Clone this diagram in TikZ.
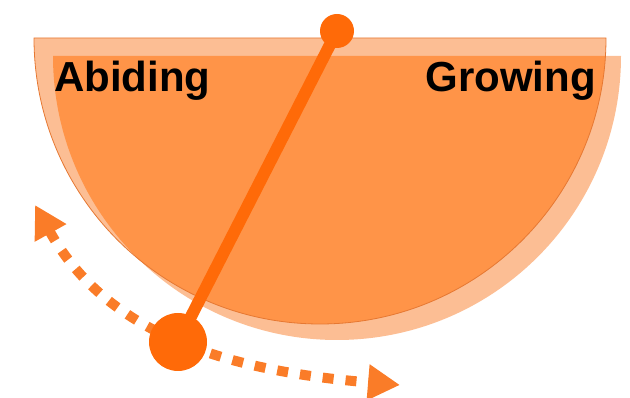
\documentclass[tikz,border=0pt]{standalone}
\usepackage{fontspec}
\setmainfont{Liberation Sans}
\usetikzlibrary{arrows.meta}
\definecolor{peach}{RGB}{252,190,148}
\definecolor{overlap}{RGB}{255,148,72}
\definecolor{rim}{RGB}{230,120,50}
\definecolor{rod}{RGB}{255,106,8}
\definecolor{swing}{RGB}{250,124,40}
\begin{document}
\begin{tikzpicture}[x=1pt,y=1pt,
  word/.style={font=\fontsize{42pt}{50pt}\selectfont\bfseries, inner sep=0pt, text=black},
  ball/.style={circle, fill=rod, inner sep=0pt},
  rodline/.style={draw=rod, line width=12pt},
  swingarrow/.style={draw=swing, line width=10pt, dash pattern=on 11pt off 12pt,
    {Triangle[length=32pt,width=34pt]}-{Triangle[length=32pt,width=34pt]}}]
\useasboundingbox (0,0) rectangle (630,398);
% two half discs
\fill[peach] (34,360) arc[start angle=180, end angle=360, radius=286] -- cycle;
\fill[peach] (53,342) arc[start angle=180, end angle=360, radius=284] -- cycle;
\begin{scope}
  \clip (34,360) arc[start angle=180, end angle=360, radius=286] -- cycle;
  \fill[overlap] (53,342) arc[start angle=180, end angle=360, radius=284] -- cycle;
\end{scope}
\draw[rim, line width=0.8pt] (34,360) arc[start angle=180, end angle=360, radius=286] -- cycle;
% labels
\node[word, anchor=base west] (abiding) at (54,306) {Abiding};
\node[word, anchor=base east] (growing) at (596,306) {Growing};
% swing arrow
\coordinate (swingstart) at (35,193);
\coordinate (swingend) at (400,13);
\draw[swingarrow] (swingstart) .. controls (108,62) and (230,27) .. (swingend);
% pendulum
\node[ball, minimum size=34pt] (pivot) at (337,367) {};
\node[ball, minimum size=58pt] (bob) at (178,56) {};
\draw[rodline] (pivot.center) -- (bob.center);
\end{tikzpicture}
\end{document}
